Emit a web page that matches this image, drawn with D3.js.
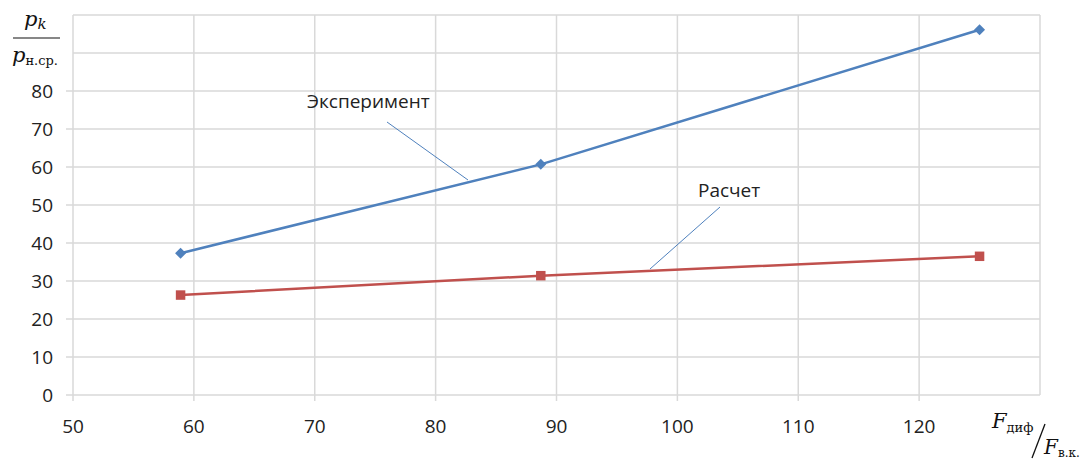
<!DOCTYPE html>
<html>
<head>
<meta charset="utf-8">
<script src="https://cdn.jsdelivr.net/npm/d3@7"></script>
<style>
  body { margin: 0; background: #fff; }
  svg text { font-family: "Open Sans", "Liberation Sans", sans-serif; }
  .math { font-family: "DejaVu Serif", "Liberation Serif", serif; font-style: italic; }
</style>
</head>
<body>
<div id="chart"></div>
<script>
// data
var xValues = [58.9, 88.7, 125];
var experiment = [37.3, 60.7, 96.1];
var calculated = [26.3, 31.4, 36.5];
var xTicks = [50, 60, 70, 80, 90, 100, 110, 120];
var xGrid = [50, 60, 70, 80, 90, 100, 110, 120, 130];
var yTicks = [0, 10, 20, 30, 40, 50, 60, 70, 80];
var yGrid = [0, 10, 20, 30, 40, 50, 60, 70, 80, 90, 100];

var width = 1080, height = 459;
var blue = "#4f81bd", red = "#c0504d", gridColor = "#d9d9d9";

var svg = d3.select("#chart").append("svg")
    .attr("width", width)
    .attr("height", height);

var x = d3.scaleLinear().domain([50, 130]).range([73, 1040]);
var y = d3.scaleLinear().domain([0, 100]).range([395, 15]);

// grid
svg.selectAll(".vgrid").data(xGrid).enter().append("line")
    .attr("x1", function(d) { return x(d); })
    .attr("x2", function(d) { return x(d); })
    .attr("y1", y(100))
    .attr("y2", function(d) { return d == 130 ? y(0) : y(0) + 6; })
    .attr("stroke", gridColor).attr("stroke-width", 1.5);
svg.selectAll(".hgrid").data(yGrid).enter().append("line")
    .attr("x1", function(d) { return d <= 80 ? x(50) - 7 : x(50); })
    .attr("x2", x(130))
    .attr("y1", function(d) { return y(d); })
    .attr("y2", function(d) { return y(d); })
    .attr("stroke", gridColor).attr("stroke-width", 1.5);

// tick labels
svg.selectAll(".xlab").data(xTicks).enter().append("text")
    .attr("x", function(d) { return x(d); })
    .attr("y", 433)
    .attr("text-anchor", "middle")
    .attr("font-size", 19)
    .attr("fill", "#222")
    .text(function(d) { return d; });
svg.selectAll(".ylab").data(yTicks).enter().append("text")
    .attr("x", 53)
    .attr("y", function(d) { return y(d) + 7; })
    .attr("text-anchor", "end")
    .attr("font-size", 19)
    .attr("fill", "#222")
    .text(function(d) { return d; });

// series lines
function drawSeries(values, color) {
    var pts = xValues.map(function(v, i) { return [v, values[i]]; });
    svg.append("path")
        .datum(pts)
        .attr("fill", "none")
        .attr("stroke", color)
        .attr("stroke-width", 2.5)
        .attr("d", d3.line().x(function(d) { return x(d[0]); }).y(function(d) { return y(d[1]); }));
    return pts;
}
var expPts = drawSeries(experiment, blue);
var calcPts = drawSeries(calculated, red);

svg.selectAll(".diamond").data(expPts).enter().append("path")
    .attr("transform", function(d) { return "translate(" + x(d[0]) + "," + y(d[1]) + ") rotate(45)"; })
    .attr("d", d3.symbol().type(d3.symbolSquare).size(60))
    .attr("fill", blue);
svg.selectAll(".square").data(calcPts).enter().append("path")
    .attr("transform", function(d) { return "translate(" + x(d[0]) + "," + y(d[1]) + ")"; })
    .attr("d", d3.symbol().type(d3.symbolSquare).size(90))
    .attr("fill", red);

// callouts
svg.append("text").attr("x", 307).attr("y", 108).attr("font-size", 19).attr("fill", "#222").text("Эксперимент");
svg.append("line").attr("x1", 387).attr("y1", 122).attr("x2", 468).attr("y2", 180)
    .attr("stroke", blue).attr("stroke-width", 1);
svg.append("text").attr("x", 698).attr("y", 197).attr("font-size", 19).attr("fill", "#222").text("Расчет");
svg.append("line").attr("x1", 720).attr("y1", 207).attr("x2", 650).attr("y2", 269)
    .attr("stroke", blue).attr("stroke-width", 1);

// y title: p_k / p_н.ср.
var yt = svg.append("g");
yt.append("text").attr("class", "math").attr("x", 24).attr("y", 26).attr("font-size", 21).attr("fill", "#111")
    .text("p")
    .append("tspan").attr("font-size", 15).attr("dy", 3).text("k");
yt.append("line").attr("x1", 13).attr("x2", 60).attr("y1", 38).attr("y2", 38).attr("stroke", "#111").attr("stroke-width", 1.2);
var den = yt.append("text").attr("x", 12).attr("y", 62).attr("font-size", 21).attr("fill", "#111");
den.append("tspan").attr("class", "math").text("p");
den.append("tspan").attr("font-size", 13).attr("dy", 3)
    .style("font-family", "'DejaVu Serif', serif").style("font-style", "normal").text("н.ср.");

// x title: F_диф / F_в.к.
var xt = svg.append("g");
var f1 = xt.append("text").attr("x", 992).attr("y", 428).attr("font-size", 21).attr("fill", "#111");
f1.append("tspan").attr("class", "math").text("F");
f1.append("tspan").attr("font-size", 13).attr("dy", 4)
    .style("font-family", "'DejaVu Serif', serif").text("диф");
xt.append("line").attr("x1", 1045).attr("y1", 424).attr("x2", 1032).attr("y2", 458)
    .attr("stroke", "#111").attr("stroke-width", 1.3);
var f2 = xt.append("text").attr("x", 1044).attr("y", 454).attr("font-size", 20).attr("fill", "#111");
f2.append("tspan").attr("class", "math").text("F");
f2.append("tspan").attr("font-size", 12).attr("dy", 3)
    .style("font-family", "'DejaVu Serif', serif").text("в.к.");
</script>
</body>
</html>
